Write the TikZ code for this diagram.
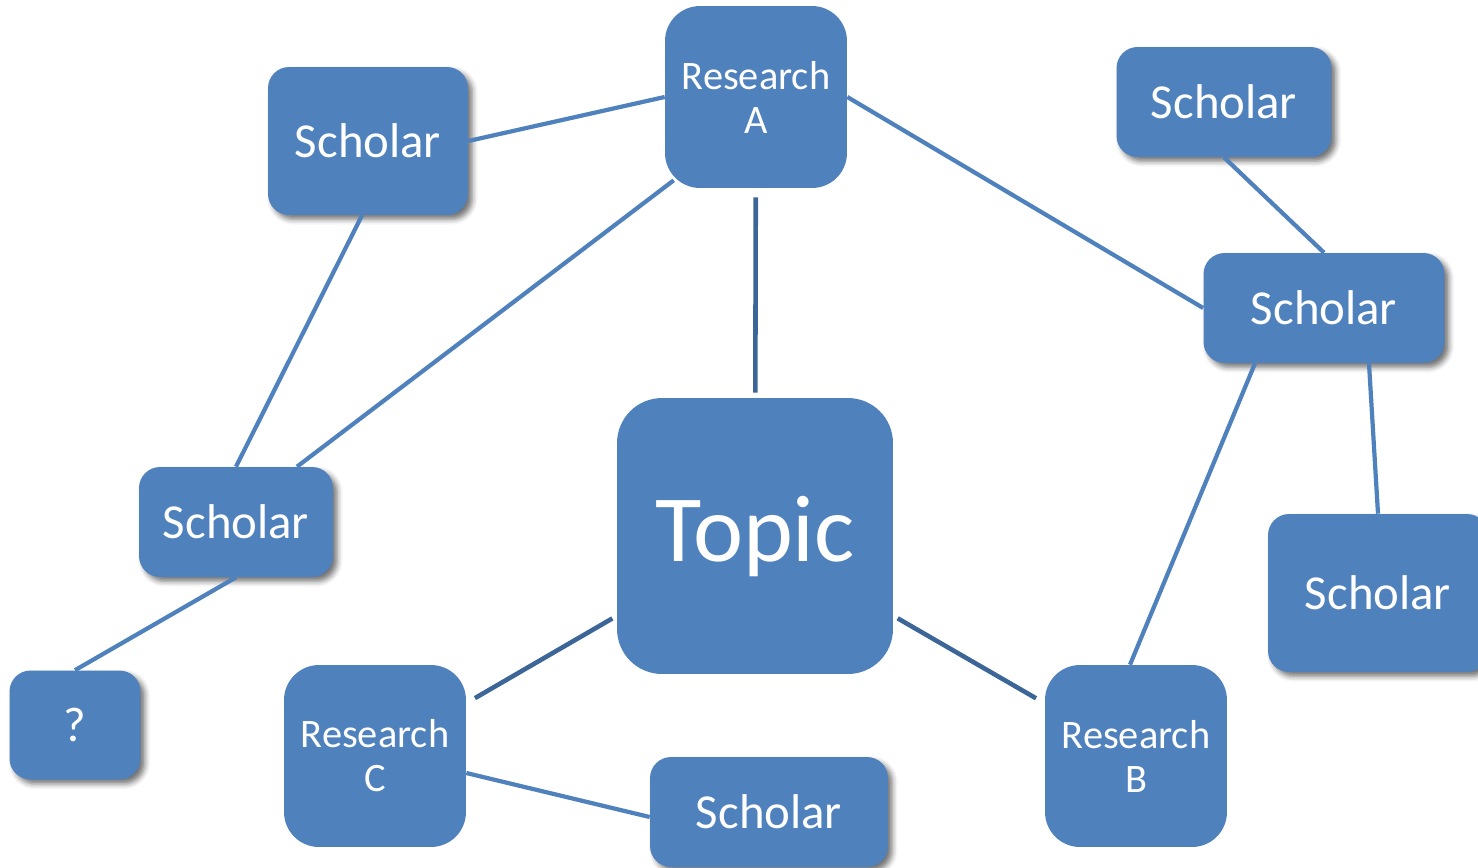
\documentclass[tikz,border=0pt]{standalone}
\usepackage{fontspec}
\setmainfont{Carlito}
\usetikzlibrary{shadows.blur}
\definecolor{boxblue}{RGB}{79,129,189}
\definecolor{linkblue}{RGB}{79,129,189}
\definecolor{topicblue}{RGB}{60,101,152}

\begin{document}
\begin{tikzpicture}[x=0.02cm, y=-0.02cm,
          box/.style={
              fill=boxblue,
              draw=none,
              text=white,
              align=center,
              inner sep=0pt
            },
          research/.style={
              box,
              rounded corners=0.7cm,
              minimum width=3.64cm,
              minimum height=3.64cm,
              font=\fontsize{23}{25}\selectfont
            },
          scholar/.style={
              box,
              rounded corners=0.42cm,
              minimum height=2.2cm,
              font=\fontsize{27.8}{32}\selectfont,
              blur shadow={shadow xshift=2.5pt, shadow yshift=-2.5pt,
                  shadow blur radius=3pt, shadow opacity=55}
            },
          topicbox/.style={
              box,
              rounded corners=0.9cm,
              minimum width=5.52cm,
              minimum height=5.52cm,
              font=\fontsize{54}{60}\selectfont
            },
          link/.style={linkblue, line width=2.4pt},
          topiclink/.style={topicblue, line width=2.6pt}
        ]
        \useasboundingbox (0,0) rectangle (1478,867);

        \node[research] (resA) at (756,97) {Research\\A};
        \node[topicbox] (topic) at (755,536) {Topic};
        \node[research] (resB) at (1136,756) {Research\\B};
        \node[research] (resC) at (375,756) {Research\\C};

        \node[scholar, minimum width=4cm, minimum height=2.96cm] (schTL) at (368,141) {Scholar};
        \node[scholar, minimum width=4.3cm] (schTR) at (1224,102) {Scholar};
        \node[scholar, minimum width=4.82cm] (schRM) at (1324,308) {Scholar};
        \node[scholar, minimum width=4.4cm, minimum height=3.16cm] (schFR) at (1378,593) {Scholar};
        \node[scholar, minimum width=3.88cm] (schLM) at (236,522) {Scholar};
        \node[scholar, minimum width=2.62cm, minimum height=2.18cm] (unknown) at (75,725) {?};
        \node[scholar, minimum width=4.76cm] (schB) at (769,812) {Scholar};

        \draw[link] (schTL.east) -- (resA.west);
        \draw[link] ([xshift=0.18cm, yshift=0.16cm]resA.south west) -- ([xshift=1.22cm]schLM.north);
        \draw[link] (resA.east) -- (schRM.west);
        \draw[link] (schTR.south) -- (schRM.north);
        \draw[link] ([xshift=-1.38cm]schRM.south) -- ([xshift=-0.12cm]resB.north);
        \draw[link] ([xshift=0.9cm]schRM.south) -- (schFR.north);
        \draw[link] ([xshift=-0.12cm]schTL.south) -- (schLM.north);
        \draw[link] (schLM.south) -- (unknown.north);
        \draw[link] ([yshift=-0.34cm]resC.east) -- ([yshift=-0.1cm]schB.west);

        \draw[topiclink, shorten <=0.18cm, shorten >=0.1cm] (resA) -- (topic);
        \draw[topiclink, shorten <=0.1cm, shorten >=0.2cm] (topic) -- (resC);
        \draw[topiclink, shorten <=0.1cm, shorten >=0.2cm] (topic) -- (resB);
      \end{tikzpicture}
\end{document}
